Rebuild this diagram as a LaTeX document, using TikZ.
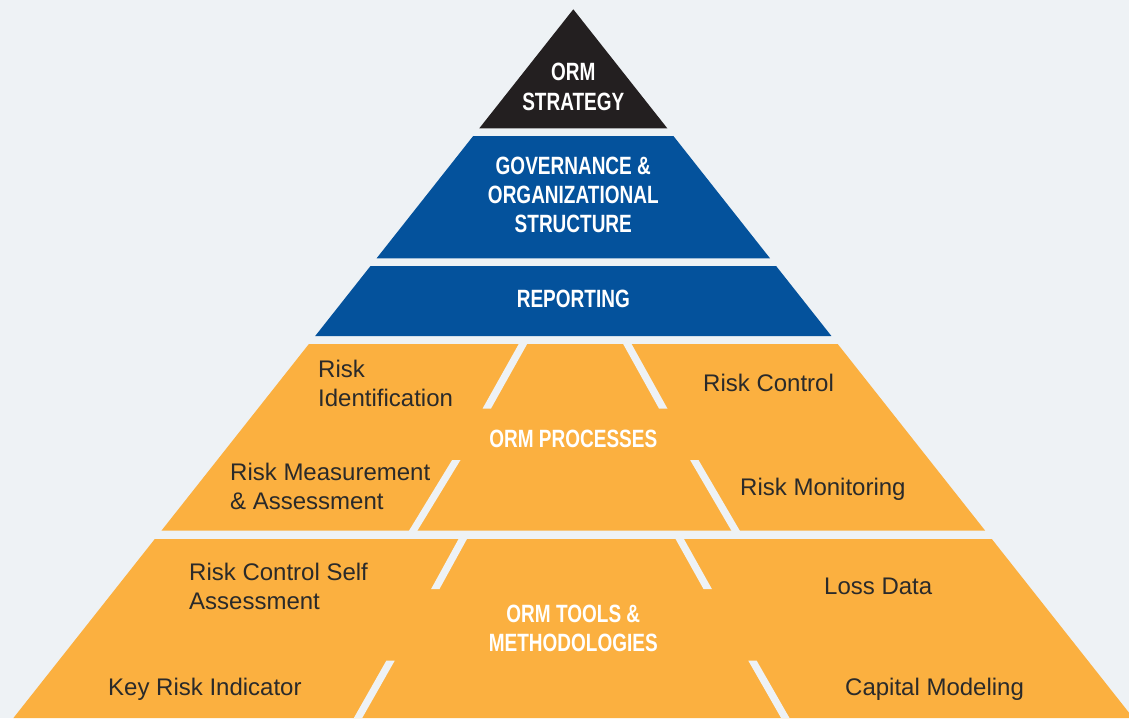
\documentclass[tikz,border=0pt]{standalone}
\usepackage{fontspec}
\setmainfont{Liberation Sans}
\newfontfamily\headfont[FakeStretch=0.76]{Liberation Sans}
\definecolor{bgcol}{HTML}{EEF2F5}
\definecolor{strategy}{HTML}{231F20}
\definecolor{govblue}{HTML}{04529C}
\definecolor{ormorange}{HTML}{FBB040}
\definecolor{itemtext}{HTML}{2A2A2A}
\tikzset{
  head/.style={text=white, inner sep=0pt, anchor=base,
    font=\headfont\bfseries\fontsize{25}{29}\selectfont},
  item/.style={text=itemtext, inner sep=0pt, anchor=base west,
    font=\fontsize{24}{29}\selectfont},
  gap/.style={fill=bgcol}
}

\begin{document}
\begin{tikzpicture}[x=1pt,y=-1pt]
    \useasboundingbox (0,0) rectangle (1129,718);
    \fill[bgcol] (0,0) rectangle (1129,718);

    % pyramid layers
    \fill[strategy] (573.3,9.3) -- (667.3,128.3) -- (479.3,128.3) -- cycle;
    \fill[govblue] (473.2,136) -- (673.4,136) -- (770.0,258.3) -- (376.6,258.3) -- cycle;
    \fill[govblue] (370.5,266) -- (776.1,266) -- (831.4,336) -- (315.2,336) -- cycle;
    \fill[ormorange] (308.9,344) -- (837.7,344) -- (985.2,530.7) -- (161.4,530.7) -- cycle;
    \fill[ormorange] (154.8,539) -- (991.8,539) -- (1133.2,718) -- (13.4,718) -- cycle;

    % slanted cuts, processes
    \fill[gap] (519.3,343) -- (527.7,343) -- (490.9,408.7) -- (482.5,408.7) -- cycle;
    \fill[gap] (622.6,343) -- (631.0,343) -- (667.5,408.7) -- (659.1,408.7) -- cycle;
    \fill[gap] (452.1,460) -- (460.5,460) -- (417.2,531) -- (408.8,531) -- cycle;
    \fill[gap] (690.1,460) -- (698.5,460) -- (740.0,531) -- (731.6,531) -- cycle;
    % slanted cuts, tools
    \fill[gap] (459.1,538) -- (467.5,538) -- (439.5,589) -- (431.1,589) -- cycle;
    \fill[gap] (675.0,538) -- (683.4,538) -- (711.9,589) -- (703.5,589) -- cycle;
    \fill[gap] (386.3,660.7) -- (394.7,660.7) -- (362.2,718) -- (353.8,718) -- cycle;
    \fill[gap] (748.3,660.7) -- (756.7,660.7) -- (789.5,718) -- (781.1,718) -- cycle;

    \node[head] (S1) at (573.3,80.7) {ORM};
    \node[head] (S2) at (573.3,110) {STRATEGY};

    \node[head] (G1) at (573.3,174.5) {GOVERNANCE \&};
    \node[head] (G2) at (573.3,203.5) {ORGANIZATIONAL};
    \node[head] (G3) at (573.3,232.5) {STRUCTURE};

    \node[head] (R) at (573.3,307) {REPORTING};

    \node[head] (P) at (573.3,447) {ORM PROCESSES};
    \node[item] (P11) at (318,377) {Risk};
    \node[item] (P12) at (318,406) {Identification};
    \node[item] (P21) at (703,391) {Risk Control};
    \node[item] (P31) at (230,480) {Risk Measurement};
    \node[item] (P32) at (230,509) {\& Assessment};
    \node[item] (P41) at (740,495) {Risk Monitoring};

    \node[head] (T1) at (573.3,622) {ORM TOOLS \&};
    \node[head] (T2) at (573.3,651) {METHODOLOGIES};
    \node[item] (T11) at (189,580) {Risk Control Self};
    \node[item] (T12) at (189,609) {Assessment};
    \node[item] (T21) at (824,594) {Loss Data};
    \node[item] (T31) at (108,695) {Key Risk Indicator};
    \node[item] (T41) at (845,695) {Capital Modeling};
\end{tikzpicture}
\end{document}
